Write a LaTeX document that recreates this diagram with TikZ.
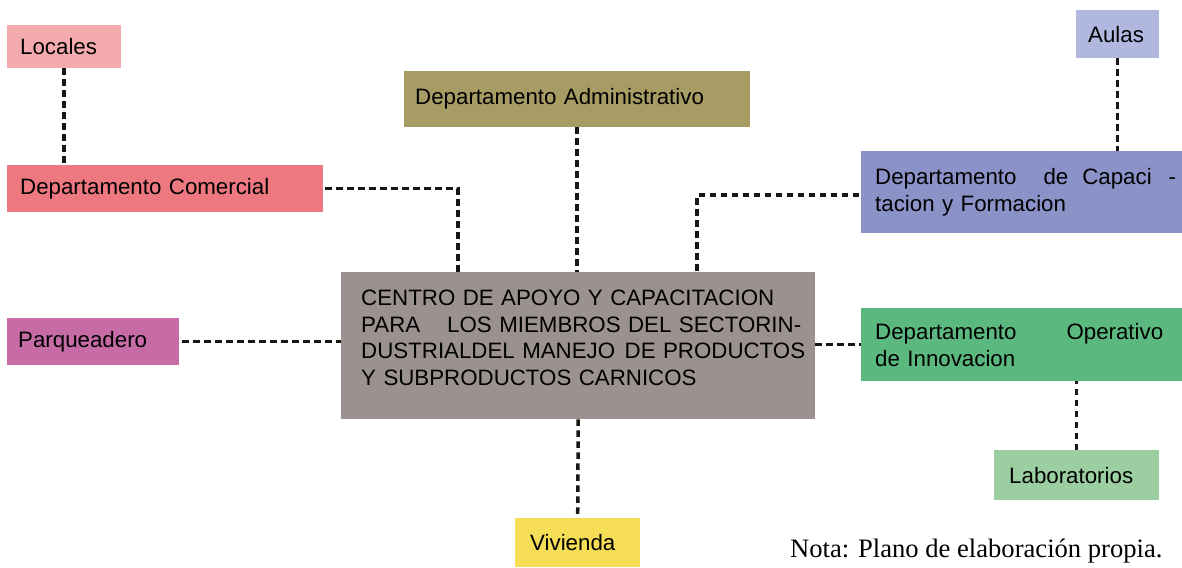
\documentclass[tikz,border=0pt]{standalone}
\usepackage{fontspec}
\setmainfont{Liberation Sans}
\newfontfamily\notafont{Liberation Serif}
\usetikzlibrary{calc}
\definecolor{cLoc}{HTML}{F5AAAE}
\definecolor{cCom}{HTML}{EE7880}
\definecolor{cAdm}{HTML}{A89C65}
\definecolor{cAul}{HTML}{B0B8E0}
\definecolor{cCap}{HTML}{8A92C8}
\definecolor{cCen}{HTML}{9B9290}
\definecolor{cPar}{HTML}{C66BA6}
\definecolor{cOpe}{HTML}{5BB87E}
\definecolor{cLab}{HTML}{9BCFA2}
\definecolor{cViv}{HTML}{F5DD55}
\definecolor{cLine}{HTML}{1A1616}
\begin{document}
\begin{tikzpicture}[x=1pt,y=-1pt,
  box/.style={draw=none, inner ysep=0pt, align=left, anchor=north west,
    font=\fontsize{22.3}{27}\selectfont},
  conn/.style={draw=cLine, line width=3.5pt, dash pattern=on 6.5pt off 4.5pt}]
\path[use as bounding box, fill=white] (0,0) rectangle (1182,567);

\node[box, fill=cLoc, inner xsep=13pt, minimum width=114pt, minimum height=43pt, text width=88pt] (loc) at (7,25) {Locales};
\node[box, fill=cCom, inner xsep=13pt, minimum width=316pt, minimum height=47pt, text width=290pt] (com) at (7,165) {Departamento Comercial};
\node[box, fill=cAdm, inner xsep=11pt, minimum width=346pt, minimum height=56pt, text width=324pt] (adm) at (404,71) {Departamento Administrativo};
\node[box, fill=cAul, inner xsep=12pt, minimum width=83pt, minimum height=48pt, text width=59pt] (aul) at (1076,10) {Aulas};
\node[box, fill=cCap, inner xsep=14pt, minimum width=321pt, minimum height=82pt, text width=293pt] (cap) at (861,151)
  {\makebox[301pt][l]{Departamento\hfill de\hspace{14pt}Capaci\hspace{17pt}-}\\tacion y Formacion};
\node[box, fill=cCen, inner xsep=20pt, minimum width=474pt, minimum height=147pt, text width=434pt,
  font=\fontsize{22.3}{26.5}\selectfont] (cen) at (341,272)
  {CENTRO DE APOYO Y CAPACITACION\\
   \makebox[440pt][l]{PARA\hfill\ LOS MIEMBROS DEL SECTORIN-}\\
   \makebox[444pt][l]{DUSTRIALDEL MANEJO\hfill\ DE PRODUCTOS}\\
   Y SUBPRODUCTOS CARNICOS\rule[-16pt]{0pt}{1pt}};
\node[box, fill=cPar, inner xsep=11pt, minimum width=172pt, minimum height=47pt, text width=150pt] (par) at (7,318) {Parqueadero};
\node[box, fill=cOpe, inner xsep=14pt, minimum width=321pt, minimum height=73pt, text width=293pt] (ope) at (861,308)
  {\makebox[288pt][l]{Departamento\hfill Operativo}\\de Innovacion};
\node[box, fill=cLab, inner xsep=15pt, minimum width=165pt, minimum height=50pt, text width=135pt] (lab) at (994,450) {Laboratorios};
\node[box, fill=cViv, inner xsep=15pt, minimum width=125pt, minimum height=49pt, text width=95pt] (viv) at (515,518) {Vivienda};
\node[anchor=base west, inner sep=0pt, font=\notafont\fontsize{26.6}{30}\selectfont] (nota) at (790,557) {Nota: Plano de elaboración propia.};

\draw[conn] (loc.south) -- (loc.south |- com.north);
\draw[conn] ([xshift=2pt]com.east) -| ([xshift=117pt]cen.north west);
\draw[conn] (adm.south) -- (adm.south |- cen.north);
\draw[conn] ([xshift=-2pt,yshift=-3pt]cap.west) -| ([xshift=356pt]cen.north west);
\draw[conn] (aul.south) -- (aul.south |- cap.north);
\draw[conn] ([xshift=3pt]par.east) -- (par.east -| cen.west);
\draw[conn] (cen.east |- ope.west) -- (ope.west);
\draw[conn] (lab.north) -- (lab.north |- ope.south);
\draw[conn] (cen.south) -- (viv.north);
\end{tikzpicture}
\end{document}
